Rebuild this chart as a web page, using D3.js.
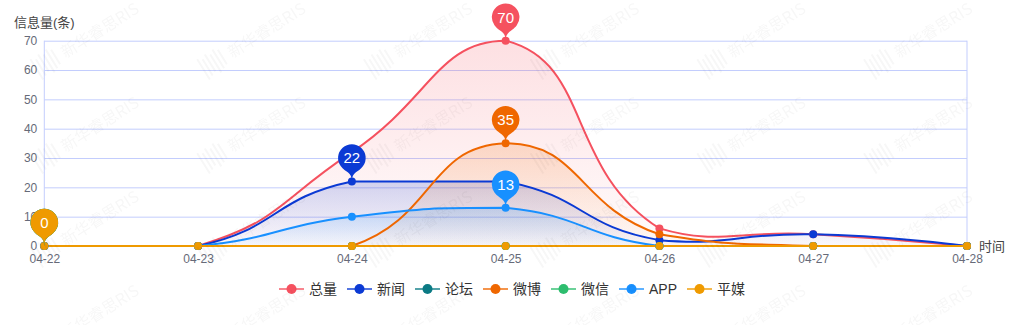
<!DOCTYPE html>
<html>
<head>
<meta charset="utf-8">
<script src="https://cdn.jsdelivr.net/npm/d3@7"></script>
<style>
  html, body { margin: 0; padding: 0; background: #fff; }
  text { font-family: "Liberation Sans", "Noto Sans CJK SC", sans-serif; }
</style>
</head>
<body>
<div id="chart"></div>
<script>
// data
var dates = ['04-22', '04-23', '04-24', '04-25', '04-26', '04-27', '04-28'];
var seriesNames = ['总量', '新闻', '论坛', '微博', '微信', 'APP', '平媒'];
var seriesColors = ['#f5515f', '#0b3ad4', '#0b7a84', '#ef6700', '#2dbd6e', '#1890ff', '#ef9a00'];
var total  = [0, 0, 32, 70, 6, 4, 0];
var news   = [0, 0, 22, 22, 2, 4, 0];
var forum  = [0, 0, 0, 0, 0, 0, 0];
var weibo  = [0, 0, 0, 35, 4, 0, 0];
var wechat = [0, 0, 0, 0, 0, 0, 0];
var app    = [0, 0, 10, 13, 0, 0, 0];
var print  = [0, 0, 0, 0, 0, 0, 0];
var seriesValues = [total, news, forum, weibo, wechat, app, print];
var yTicks = [0, 10, 20, 30, 40, 50, 60, 70];
var yName = '信息量(条)';
var xName = '时间';
var watermark = '新华睿思RIS';

function drawChart() {
  var width = 1024, height = 325;
  var left = 44.3, right = 967, plotTop = 40.7, bottom = 246;
  var gridColor = '#c3cdfd';

  var svg = d3.select('#chart').append('svg').attr('width', width).attr('height', height);
  var defs = svg.append('defs');

  var x = d3.scalePoint().domain(dates).range([left, right]);
  var y = d3.scaleLinear().domain([0, 70]).range([bottom, plotTop]);

  // gridlines + y labels
  var yAxis = svg.append('g').attr('transform', 'translate(' + left + ',0)')
    .call(d3.axisLeft(y).tickValues(yTicks).tickSizeInner(-(right - left)).tickSizeOuter(0).tickPadding(7));
  yAxis.select('.domain').remove();
  yAxis.selectAll('line').attr('stroke', gridColor);
  yAxis.selectAll('text').attr('fill', '#666a78').style('font-size', '12px');

  // grid border left / right
  svg.append('line').attr('x1', left).attr('x2', left).attr('y1', plotTop).attr('y2', bottom).attr('stroke', gridColor);
  svg.append('line').attr('x1', right).attr('x2', right).attr('y1', plotTop).attr('y2', bottom).attr('stroke', gridColor);

  var xAxis = svg.append('g').attr('transform', 'translate(0,' + bottom + ')')
    .call(d3.axisBottom(x).tickSize(0).tickPadding(8));
  xAxis.select('.domain').remove();
  xAxis.selectAll('text').attr('fill', '#666a78').style('font-size', '12px');

  svg.append('text').attr('x', 14).attr('y', 22).attr('dominant-baseline', 'central')
    .attr('fill', '#444').style('font-size', '13px').text(yName);
  svg.append('text').attr('x', 979).attr('y', bottom).attr('dominant-baseline', 'central')
    .attr('fill', '#444').style('font-size', '13px').text(xName);

  // echarts-like smooth line (bezier with bbox constraint)
  function smoothPath(pts, smooth) {
    var minX = d3.min(pts, function(p) { return p[0]; }), maxX = d3.max(pts, function(p) { return p[0]; });
    var minY = d3.min(pts, function(p) { return p[1]; }), maxY = d3.max(pts, function(p) { return p[1]; });
    function clamp(c) {
      return [Math.max(minX, Math.min(maxX, c[0])), Math.max(minY, Math.min(maxY, c[1]))];
    }
    var path = d3.path();
    path.moveTo(pts[0][0], pts[0][1]);
    var cp0 = pts[0].slice();
    for (var i = 1; i < pts.length; i++) {
      var p = pts[i], prev = pts[i - 1], next = pts[i + 1];
      var vx = 0, vy = 0, ratio = 0.5, cp1;
      if (!next) {
        cp1 = p.slice();
      } else {
        vx = next[0] - prev[0]; vy = next[1] - prev[1];
        var lp = Math.hypot(p[0] - prev[0], p[1] - prev[1]);
        var ln = Math.hypot(next[0] - p[0], next[1] - p[1]);
        ratio = ln / (ln + lp);
        cp1 = [p[0] - vx * smooth * (1 - ratio), p[1] - vy * smooth * (1 - ratio)];
      }
      cp0 = clamp(cp0); cp1 = clamp(cp1);
      path.bezierCurveTo(cp0[0], cp0[1], cp1[0], cp1[1], p[0], p[1]);
      cp0 = [p[0] + vx * smooth * ratio, p[1] + vy * smooth * ratio];
    }
    return path.toString();
  }

  var plot = svg.append('g');

  seriesValues.forEach(function(vals, si) {
    var color = seriesColors[si];
    var pts = vals.map(function(v, i) { return [x(dates[i]), y(v)]; });
    var line = smoothPath(pts, 0.5);
    var gid = 'grad' + si;
    var g = defs.append('linearGradient').attr('id', gid).attr('x1', 0).attr('y1', 0).attr('x2', 0).attr('y2', 1);
    g.append('stop').attr('offset', '0%').attr('stop-color', color).attr('stop-opacity', 0.18);
    g.append('stop').attr('offset', '100%').attr('stop-color', color).attr('stop-opacity', 0.02);
    if (d3.max(vals) > 0) {
      plot.append('path')
        .attr('d', line + 'L' + pts[pts.length - 1][0] + ',' + y(0) + 'L' + pts[0][0] + ',' + y(0) + 'Z')
        .attr('fill', 'url(#' + gid + ')');
    }
  });

  seriesValues.forEach(function(vals, si) {
    var pts = vals.map(function(v, i) { return [x(dates[i]), y(v)]; });
    plot.append('path').attr('d', smoothPath(pts, 0.5))
      .attr('fill', 'none').attr('stroke', seriesColors[si]).attr('stroke-width', 2);
  });

  seriesValues.forEach(function(vals, si) {
    plot.selectAll(null).data(vals).enter().append('circle')
      .attr('cx', function(d, i) { return x(dates[i]); })
      .attr('cy', function(d) { return y(d); })
      .attr('r', 4)
      .attr('fill', seriesColors[si]);
  });

  // max pins
  function pinPath(tx, ty) {
    var r = 13.8, cy = ty - 23.5;
    var dy = cy + r * r / (ty - cy);
    var ang = Math.asin((dy - cy) / r);
    var dx = Math.cos(ang) * r;
    var p = d3.path();
    p.moveTo(tx - dx, dy);
    p.arc(tx, cy, r, Math.PI - ang, Math.PI * 2 + ang);
    p.bezierCurveTo(tx + dx - Math.sin(ang) * r * 0.6, dy + Math.cos(ang) * r * 0.6, tx, ty - r * 0.7, tx, ty);
    p.bezierCurveTo(tx, ty - r * 0.7, tx - dx + Math.sin(ang) * r * 0.6, dy + Math.cos(ang) * r * 0.6, tx - dx, dy);
    p.closePath();
    return p.toString();
  }

  var pins = svg.append('g');
  seriesValues.forEach(function(vals, si) {
    var mx = d3.max(vals);
    var idx = vals.indexOf(mx);
    var tx = x(dates[idx]), ty = y(mx);
    pins.append('path').attr('d', pinPath(tx, ty)).attr('fill', seriesColors[si]);
    pins.append('text').attr('x', tx).attr('y', ty - 23.5).attr('text-anchor', 'middle')
      .attr('dominant-baseline', 'central').attr('fill', '#fff').style('font-size', '15px').text(mx);
  });

  // legend
  var legend = svg.append('g');
  var lx = 279, ly = 289;
  seriesNames.forEach(function(name, si) {
    var item = legend.append('g').attr('transform', 'translate(' + lx + ',' + ly + ')');
    item.append('line').attr('x1', 0).attr('x2', 25).attr('y1', 0).attr('y2', 0)
      .attr('stroke', seriesColors[si]).attr('stroke-width', 2).attr('stroke-opacity', 0.7);
    item.append('circle').attr('cx', 12.5).attr('cy', 0).attr('r', 5).attr('fill', seriesColors[si]);
    var t = item.append('text').attr('x', 30).attr('y', 0).attr('dominant-baseline', 'central')
      .attr('fill', '#333').style('font-size', '14px').text(name);
    lx += 30 + t.node().getComputedTextLength() + 10;
  });

  // faint watermark tiles
  var wm = svg.append('g').attr('pointer-events', 'none').attr('opacity', 0.035);
  for (var row = 0; row < 4; row++) {
    for (var col = 0; col < 7; col++) {
      var cx = 47 + col * 166.7, cy = 63 + row * 94;
      var tile = wm.append('g').attr('transform', 'translate(' + cx + ',' + cy + ') rotate(-32)');
      for (var k = 0; k < 6; k++) {
        tile.append('line').attr('x1', -12 + k * 4.5).attr('x2', -12 + k * 4.5)
          .attr('y1', -12 + (k % 2) * 3).attr('y2', 12 - (k % 3) * 2)
          .attr('stroke', '#000').attr('stroke-width', 2);
      }
      tile.append('text').attr('x', 18).attr('y', 6).attr('fill', '#000')
        .style('font-family', '"Noto Sans CJK SC", sans-serif').style('font-size', '16px').text(watermark);
    }
  }
}

drawChart();
</script>
</body>
</html>
